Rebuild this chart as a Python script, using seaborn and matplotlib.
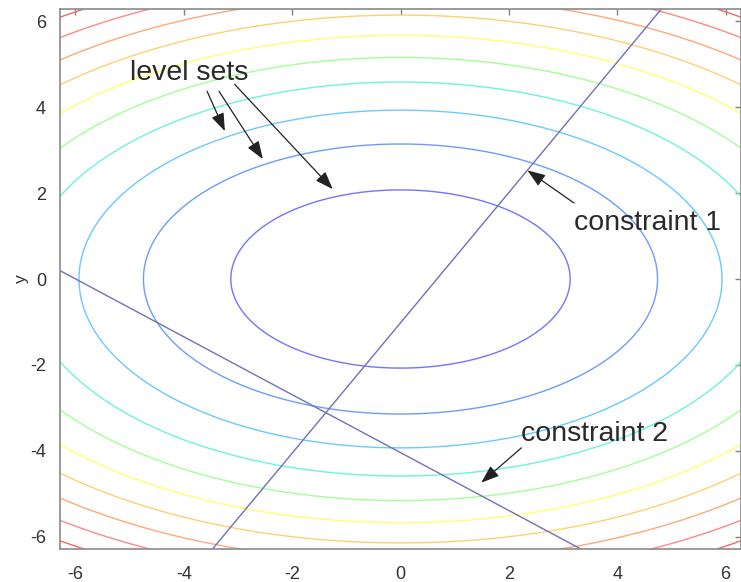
import numpy as np
import pandas as pd
import matplotlib
matplotlib.use("Agg")
import matplotlib.pyplot as plt
import seaborn as sns

# ---- data ----
y_weight = 2.28                      # f(x, y) = x^2 + 2.28 y^2
levels = [9.8, 22.5, 35.2, 47.9, 60.6, 73.3, 86.0, 98.7, 111.4, 124.1]
level_colors = ["#7474ff", "#6c9cff", "#6cc8ff", "#6cf4dc", "#a4ff98",
                "#ffff70", "#ffd070", "#ffa878", "#ff8888", "#f06a6a"]
constraint_names = ["constraint 1", "constraint 2"]
constraint_slopes = [1.517, -0.674]
constraint_intercepts = [-1.02, -4.04]
ticks = [-6, -4, -2, 0, 2, 4, 6]
lim = 2 * np.pi

sns.set_style("white")
plt.rcParams["font.family"] = ["Liberation Sans", "DejaVu Sans"]

fig = plt.figure(figsize=(7.41, 5.82), dpi=100)
ax = fig.add_axes([60 / 741, 1 - 549 / 582, 681 / 741, 540 / 582])

gx = np.linspace(-lim, lim, 600)
X, Y = np.meshgrid(gx, gx)
Z = X ** 2 + y_weight * Y ** 2
ax.contour(X, Y, Z, levels=levels, colors=level_colors, linewidths=1.0)

# constraint lines through seaborn
xs = np.array([-lim, lim])
rows = []
for name, m, c in zip(constraint_names, constraint_slopes, constraint_intercepts):
    for xv in xs:
        rows.append({"x": xv, "y": m * xv + c, "name": name})
df = pd.DataFrame(rows)
sns.lineplot(data=df, x="x", y="y", units="name", estimator=None,
             color="#7070bc", linewidth=1.0, ax=ax, legend=False)

ax.set_xlim(-lim, lim)
ax.set_ylim(-lim, lim)
ax.set_xticks(ticks)
ax.set_yticks(ticks)
ax.set_xticklabels([str(t) for t in ticks])
ax.set_yticklabels([str(t) for t in ticks])
ax.set_xlabel("")
ax.set_ylabel("y", fontsize=12.5, color="#333333", labelpad=1)
ax.tick_params(direction="in", length=4, width=1, color="#808080",
               top=True, right=True, labelsize=13, labelcolor="#333333")
ax.tick_params(axis="x", pad=12)
ax.tick_params(axis="y", pad=10)
for s in ax.spines.values():
    s.set_color("#8a8a8a")
    s.set_linewidth(1.2)

arrow = dict(arrowstyle="-|>,head_length=1.1,head_width=0.4", color="#222222",
             lw=0.9, shrinkA=0, shrinkB=0)
txt = dict(fontsize=20.5, color="#2a2a2a", va="center", ha="left")

ax.text(-4.99, 4.79, "level sets", **txt)
ax.annotate("", xy=(-3.24, 3.44), xytext=(-3.57, 4.37), arrowprops=arrow)
ax.annotate("", xy=(-2.54, 2.79), xytext=(-3.35, 4.37), arrowprops=arrow)
ax.annotate("", xy=(-1.25, 2.09), xytext=(-3.06, 4.53), arrowprops=arrow)

ax.text(3.20, 1.30, constraint_names[0], **txt)
ax.annotate("", xy=(2.34, 2.53), xytext=(3.20, 1.77), arrowprops=arrow)

ax.text(2.23, -3.60, constraint_names[1], **txt)
ax.annotate("", xy=(1.49, -4.74), xytext=(2.23, -3.93), arrowprops=arrow)

fig.savefig("out.png", dpi=100)
